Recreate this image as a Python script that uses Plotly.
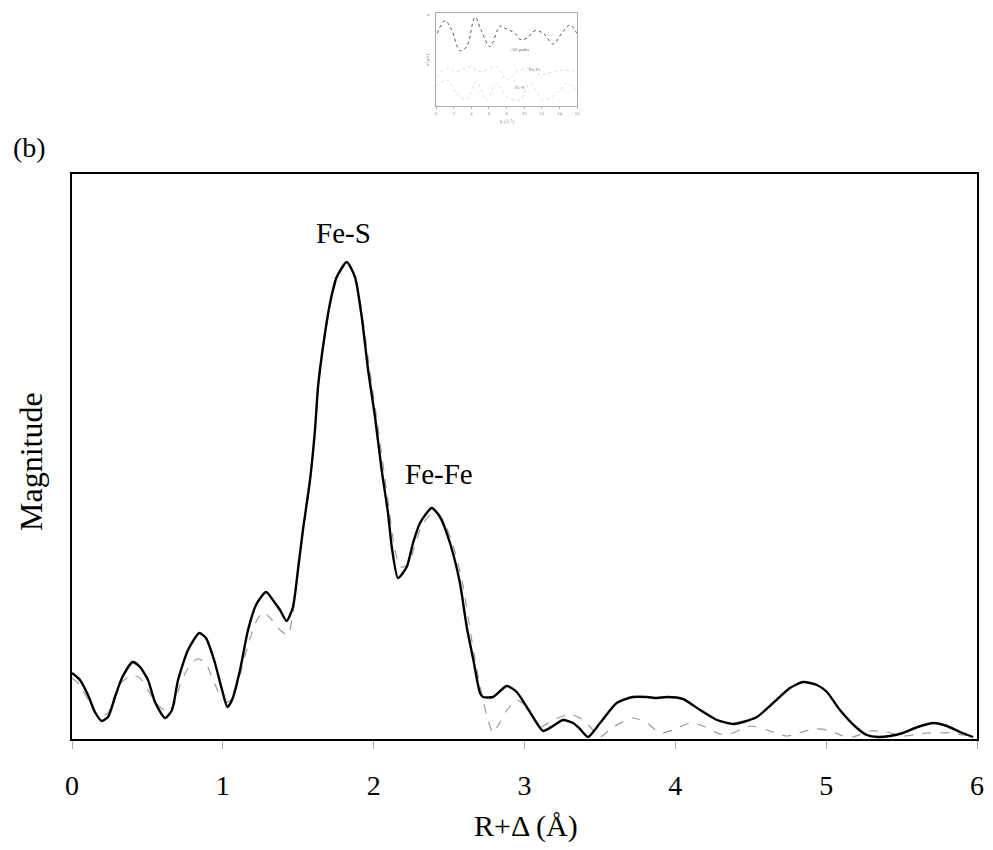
import plotly.graph_objects as go

# ---- main panel (b): Fourier-transform magnitude ----
r_data = [0.00, 0.053, 0.106, 0.152, 0.197, 0.239, 0.285, 0.331, 0.402, 0.451, 0.504, 0.550, 0.617, 0.663, 0.703,
          0.769, 0.844, 0.888, 0.942, 0.995, 1.030, 1.061, 1.114, 1.167, 1.220, 1.286, 1.346, 1.379, 1.423, 1.465,
          1.498, 1.531, 1.578, 1.611, 1.631, 1.664, 1.711, 1.755, 1.821, 1.876, 1.921, 1.963, 2.009, 2.053, 2.095,
          2.120, 2.161, 2.219, 2.261, 2.307, 2.385, 2.440, 2.506, 2.572, 2.617, 2.661, 2.705, 2.725, 2.791, 2.882,
          2.948, 3.015, 3.081, 3.123, 3.189, 3.255, 3.322, 3.368, 3.421, 3.501, 3.611, 3.719, 3.812, 3.878, 3.945,
          4.051, 4.164, 4.276, 4.382, 4.448, 4.541, 4.648, 4.760, 4.846, 4.939, 5.005, 5.091, 5.204, 5.270, 5.343,
          5.422, 5.509, 5.607, 5.713, 5.801, 5.887, 5.974]
mag_data = [0.64, 0.57, 0.42, 0.25, 0.16, 0.20, 0.40, 0.59, 0.75, 0.70, 0.57, 0.35, 0.19, 0.27, 0.57,
            0.87, 1.04, 0.99, 0.77, 0.47, 0.30, 0.37, 0.67, 1.07, 1.32, 1.45, 1.34, 1.27, 1.16, 1.30,
            1.67, 2.07, 2.57, 3.07, 3.50, 3.90, 4.34, 4.60, 4.75, 4.60, 4.20, 3.67, 3.20, 2.67, 2.24,
            1.90, 1.59, 1.70, 1.94, 2.14, 2.29, 2.20, 1.94, 1.54, 1.10, 0.77, 0.44, 0.40, 0.40, 0.51,
            0.45, 0.30, 0.14, 0.06, 0.11, 0.17, 0.14, 0.08, 0.00, 0.14, 0.34, 0.40, 0.40, 0.39, 0.40,
            0.38, 0.27, 0.17, 0.13, 0.15, 0.20, 0.34, 0.49, 0.55, 0.52, 0.45, 0.27, 0.09, 0.02, 0.00,
            0.01, 0.04, 0.10, 0.14, 0.11, 0.05, 0.00]

r_fit = [0.00, 0.053, 0.106, 0.152, 0.186, 0.239, 0.285, 0.331, 0.400, 0.451, 0.504, 0.550, 0.630, 0.676, 0.716,
         0.769, 0.829, 0.882, 0.935, 0.981, 1.028, 1.067, 1.114, 1.167, 1.220, 1.266, 1.326, 1.379, 1.432, 1.465,
         1.498, 1.531, 1.578, 1.611, 1.631, 1.664, 1.711, 1.757, 1.823, 1.883, 1.929, 1.976, 2.022, 2.069, 2.108,
         2.135, 2.175, 2.228, 2.274, 2.320, 2.400, 2.460, 2.526, 2.592, 2.639, 2.679, 2.725, 2.758, 2.791, 2.838,
         2.884, 2.950, 3.017, 3.103, 3.189, 3.302, 3.388, 3.454, 3.501, 3.587, 3.719, 3.812, 3.898, 3.984, 4.097,
         4.183, 4.296, 4.363, 4.495, 4.608, 4.740, 4.913, 5.006, 5.112, 5.178, 5.291, 5.403, 5.509, 5.668, 5.821,
         5.953]
mag_fit = [0.59, 0.52, 0.37, 0.24, 0.20, 0.24, 0.42, 0.55, 0.62, 0.59, 0.47, 0.35, 0.25, 0.32, 0.52,
           0.69, 0.78, 0.75, 0.57, 0.42, 0.35, 0.39, 0.62, 0.92, 1.15, 1.25, 1.17, 1.07, 1.02, 1.24,
           1.65, 2.05, 2.55, 3.05, 3.47, 3.87, 4.32, 4.58, 4.74, 4.57, 4.17, 3.65, 3.17, 2.65, 2.22,
           1.92, 1.70, 1.72, 1.92, 2.12, 2.25, 2.17, 1.92, 1.52, 1.07, 0.72, 0.37, 0.17, 0.04, 0.15,
           0.27, 0.37, 0.30, 0.10, 0.17, 0.23, 0.17, 0.07, 0.00, 0.10, 0.19, 0.14, 0.04, 0.07, 0.14,
           0.11, 0.03, 0.03, 0.11, 0.07, 0.01, 0.08, 0.07, 0.01, 0.00, 0.06, 0.05, 0.01, 0.04, 0.04,
           0.01]

x_ticks = [0, 1, 2, 3, 4, 5, 6]
peak_labels = ["Fe-S", "Fe-Fe"]
peak_pos_r = [1.80, 2.43]
peak_pos_mag = [5.04, 2.63]

# ---- inset panel (a): k-space EXAFS ----
k_all = [0.15, 1.02, 1.78, 2.72, 3.48, 4.43, 5.19, 6.13, 7.26, 7.83, 8.96, 9.53, 10.29, 11.23, 12.18, 13.31, 14.26, 15.21, 15.97]
chi_all = [72.7, 85.3, 76, 55.3, 59.3, 88.7, 74.3, 59.3, 80, 77.7, 72.7, 66.7, 67.7, 75.3, 72.7, 62, 72.7, 81, 72.7]
k_fefe = [0.08, 1.21, 2.35, 3.86, 4.99, 6.88, 8.02, 9.15, 10.67, 11.80, 13.32, 14.45, 15.96]
chi_fefe = [29.3, 37.7, 34.3, 39.3, 34.3, 39.3, 26, 34.3, 37.7, 31, 34.3, 36, 34.3]
k_fes = [0.08, 1.21, 2.35, 3.48, 4.62, 5.75, 6.88, 8.02, 9.53, 10.67, 12.18, 13.69, 14.83, 15.96]
chi_fes = [19.3, 26, 12.7, 6, 24.3, 6, 22.7, 9.3, 6, 22.7, 6, 12.7, 22.7, 16]
k_ticks = [0, 2, 4, 6, 8, 10, 12, 14, 16]

FONT = "Liberation Serif"
OFF = 8                      # page body margin
W, H = 993 - OFF, 850 - OFF


def px(v):
    return (v - OFF) / W


def py(v):
    return 1 - (v - OFF) / H


fig = go.Figure()
fig.add_trace(go.Scatter(x=r_fit, y=mag_fit, mode="lines",
                         line=dict(color="#9a9a9a", width=1.2, dash="dash", shape="spline", smoothing=0.6),
                         showlegend=False, xaxis="x", yaxis="y"))
fig.add_trace(go.Scatter(x=r_data, y=mag_data, mode="lines",
                         line=dict(color="black", width=2.4, shape="spline", smoothing=0.6),
                         showlegend=False, xaxis="x", yaxis="y"))

# inset traces
fig.add_trace(go.Scatter(x=k_all, y=chi_all, mode="lines",
                         line=dict(color="#555555", width=1, dash="dot", shape="spline"),
                         showlegend=False, xaxis="x2", yaxis="y2"))
fig.add_trace(go.Scatter(x=k_fefe, y=chi_fefe, mode="lines",
                         line=dict(color="#d0d0d0", width=0.8, dash="dot", shape="spline"),
                         showlegend=False, xaxis="x2", yaxis="y2"))
fig.add_trace(go.Scatter(x=k_fes, y=chi_fes, mode="lines",
                         line=dict(color="#d0d0d0", width=0.8, dash="dot", shape="spline"),
                         showlegend=False, xaxis="x2", yaxis="y2"))


def ann(x, y, text, size, color="black", angle=0, xref="paper", yref="paper"):
    return dict(x=x, y=y, xref=xref, yref=yref, text=text, showarrow=False,
                xanchor="center", yanchor="middle", textangle=angle,
                font=dict(family=FONT, size=size, color=color))


annotations = []
for lab, xr, ym in zip(peak_labels, peak_pos_r, peak_pos_mag):
    annotations.append(ann(xr, ym, lab, 29, xref="x", yref="y"))
annotations += [
    ann(px(29), py(147), "(b)", 28),
    ann(px(31), py(462), "Magnitude", 32, angle=-90),
    ann(px(526), py(826), "R+Δ (Å)", 30),
    # inset texts
    ann(px(428), py(14), "a.", 5, "#777"),
    ann(px(520), py(50), "All paths", 5, "#666"),
    ann(px(535), py(69), "Fe-Fe", 5, "#666"),
    ann(px(520), py(88), "Fe-S", 5, "#666"),
    ann(px(428), py(60), "k³χ(k)", 5, "#777", angle=-90),
    ann(px(507), py(121), "k (Å⁻¹)", 5, "#777"),
]

fig.update_layout(
    width=W, height=H,
    margin=dict(l=0, r=0, t=0, b=0),
    paper_bgcolor="white", plot_bgcolor="white",
    xaxis=dict(domain=[px(72), px(977)], range=[0, 6], tickvals=x_ticks,
               ticks="outside", ticklen=8, tickcolor="#aaa", tickwidth=1,
               ticklabelstandoff=12,
               showline=True, linecolor="black", linewidth=2, mirror=True,
               showgrid=False, zeroline=False, automargin=False,
               tickfont=dict(family=FONT, size=28, color="black"), anchor="y"),
    yaxis=dict(domain=[py(739), py(174)], range=[-0.02, 5.63],
               showticklabels=False, ticks="",
               showline=True, linecolor="black", linewidth=2, mirror=True,
               showgrid=False, zeroline=False, automargin=False, anchor="x"),
    xaxis2=dict(domain=[px(436), px(577)], range=[0, 16], tickvals=k_ticks,
                ticks="outside", ticklen=2, tickcolor="#bbb",
                showline=True, linecolor="#aaa", linewidth=1, mirror=True,
                showgrid=False, zeroline=False, automargin=False,
                tickfont=dict(family=FONT, size=5, color="#888"), anchor="y2"),
    yaxis2=dict(domain=[py(106), py(13)], range=[0, 93],
                showticklabels=False, ticks="",
                showline=True, linecolor="#aaa", linewidth=1, mirror=True,
                showgrid=False, zeroline=False, automargin=False, anchor="x2"),
    annotations=annotations,
)

fig.write_html("out.html")
